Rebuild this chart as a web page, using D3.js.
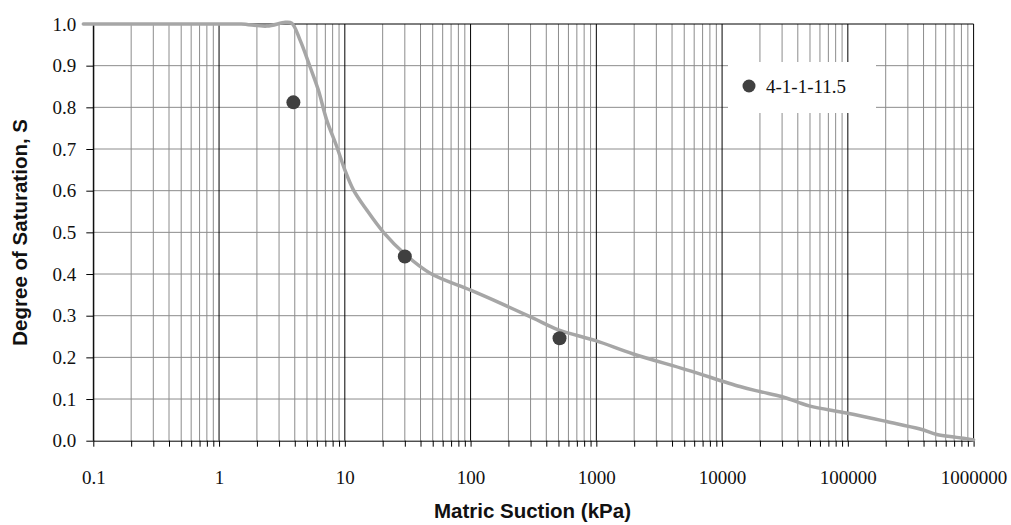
<!DOCTYPE html>
<html>
<head>
<meta charset="utf-8">
<script src="https://cdn.jsdelivr.net/npm/d3@7"></script>
<style>
  body { margin: 0; background: #fff; }
  .tick text { font-family: "Liberation Serif", "Times New Roman", serif; font-size: 19px; fill: #111; }
  .axis-title { font-family: "Liberation Sans", Arial, sans-serif; font-weight: bold; font-size: 20.5px; fill: #111; }
</style>
</head>
<body>
<div id="chart"></div>
<script>
///////////// data //////////////
// soil water characteristic curve
var curve_suction = [0.0833, 0.5, 1.0, 1.5, 2.4, 3.36, 3.78, 4.4, 5.28, 6.15, 7.17, 8.62, 10.0, 11.7, 14.9, 20.3, 30,
  47.7, 99, 151, 315, 500, 989, 1968, 5240, 13870, 19950, 29760, 40400, 50000, 99800, 203500,
  375000, 509000, 734000, 1000000];
var curve_saturation = [1.0, 1.0, 1.0, 1.0, 0.995, 1.004, 1.002, 0.962, 0.898, 0.842, 0.770, 0.706, 0.650, 0.602, 0.554, 0.500, 0.448,
  0.402, 0.362, 0.338, 0.294, 0.266, 0.240, 0.208, 0.170, 0.130, 0.118, 0.106, 0.092, 0.083, 0.066, 0.046,
  0.028, 0.015, 0.008, 0.002];

// measured points
var sample_name = '4-1-1-11.5';
var point_suction = [3.9, 30, 510];
var point_saturation = [0.812, 0.442, 0.246];

var decades = [0.1, 1, 10, 100, 1000, 10000, 100000, 1000000];
var y_ticks = [0, 0.1, 0.2, 0.3, 0.4, 0.5, 0.6, 0.7, 0.8, 0.9, 1.0];

///////////// layout //////////////
const svg_width = 1011, svg_height = 525;
const plot_left = 93.3, plot_right = 973.6, plot_top = 24, plot_bottom = 440.7;
const line_color = '#a6a6a6', point_color = '#404040', grid_color = '#8c8c8c';

var svg = d3.select('#chart').append('svg')
  .attr('width', svg_width).attr('height', svg_height);

var x_scale = d3.scaleLog().domain([0.1, 1000000]).range([plot_left, plot_right]);
var y_scale = d3.scaleLinear().domain([0, 1]).range([plot_bottom, plot_top]);

// every 1..9 multiple inside each decade
var minor_values = [];
decades.slice(0, -1).forEach(function(d){
  for (var k = 1; k < 10; k++) minor_values.push(d * k);
});
minor_values.push(1000000);
function is_decade(v){ return decades.some(function(d){ return Math.abs(v / d - 1) < 1e-9; }); }

// gridlines
var grid = svg.append('g');
grid.selectAll('.hgrid').data(y_ticks.slice(1, -1)).enter().append('line')
  .attr('x1', plot_left).attr('x2', plot_right)
  .attr('y1', d => y_scale(d)).attr('y2', d => y_scale(d))
  .attr('stroke', grid_color).attr('stroke-width', 1);
grid.selectAll('.vgrid').data(minor_values.filter(v => !is_decade(v))).enter().append('line')
  .attr('x1', d => x_scale(d)).attr('x2', d => x_scale(d))
  .attr('y1', plot_top).attr('y2', plot_bottom)
  .attr('stroke', grid_color).attr('stroke-width', 1);
grid.selectAll('.major').data(decades).enter().append('line')
  .attr('x1', d => x_scale(d)).attr('x2', d => x_scale(d))
  .attr('y1', plot_top).attr('y2', plot_bottom)
  .attr('stroke', '#000').attr('stroke-width', 1);
grid.append('line')
  .attr('x1', plot_left).attr('x2', plot_right)
  .attr('y1', plot_top).attr('y2', plot_top)
  .attr('stroke', '#000').attr('stroke-width', 1);

// axes
var x_axis = d3.axisBottom(x_scale).tickValues(minor_values)
  .tickFormat(function(v){ return is_decade(v) ? (v < 1 ? '0.1' : d3.format('d')(v)) : ''; })
  .tickSize(6).tickSizeOuter(0).tickPadding(24);
var x_axis_g = svg.append('g').attr('transform', 'translate(0,' + plot_bottom + ')').call(x_axis);

var y_axis = d3.axisLeft(y_scale).tickValues(y_ticks).tickFormat(d3.format('.1f'))
  .tickSize(7).tickSizeOuter(0).tickPadding(10);
var y_axis_g = svg.append('g').attr('transform', 'translate(' + plot_left + ',0)').call(y_axis);

svg.selectAll('.domain').attr('stroke', '#000');
svg.selectAll('.tick line').attr('stroke', '#000');

// axis titles
svg.append('text').attr('class', 'axis-title')
  .attr('x', (plot_left + plot_right) / 2 - 1).attr('y', 518)
  .attr('text-anchor', 'middle').text('Matric Suction (kPa)');
svg.append('text').attr('class', 'axis-title')
  .attr('transform', 'translate(27,' + ((plot_top + plot_bottom) / 2) + ') rotate(-90)')
  .attr('text-anchor', 'middle').text('Degree of Saturation, S');

// curve
var curve_data = curve_suction.map(function(s, i){ return [s, curve_saturation[i]]; });
var line = d3.line()
  .x(d => x_scale(d[0])).y(d => y_scale(d[1]))
  .curve(d3.curveCatmullRom.alpha(0.5));
svg.append('path').datum(curve_data)
  .attr('d', line).attr('fill', 'none')
  .attr('stroke', line_color).attr('stroke-width', 3.5)
  .attr('stroke-linejoin', 'round').attr('stroke-linecap', 'round');

// measured points
svg.selectAll('.pt').data(point_suction).enter().append('circle')
  .attr('cx', d => x_scale(d))
  .attr('cy', (d, i) => y_scale(point_saturation[i]))
  .attr('r', 7).attr('fill', point_color);

// legend
var legend = svg.append('g').attr('transform', 'translate(728,62)');
legend.append('rect').attr('width', 148).attr('height', 51).attr('fill', '#fff');
legend.append('circle').attr('cx', 21).attr('cy', 24).attr('r', 6.5).attr('fill', point_color);
legend.append('text').attr('x', 38).attr('y', 31)
  .style('font-family', '"Liberation Serif", "Times New Roman", serif')
  .style('font-size', '19px').attr('fill', '#111')
  .text(sample_name);
</script>
</body>
</html>
